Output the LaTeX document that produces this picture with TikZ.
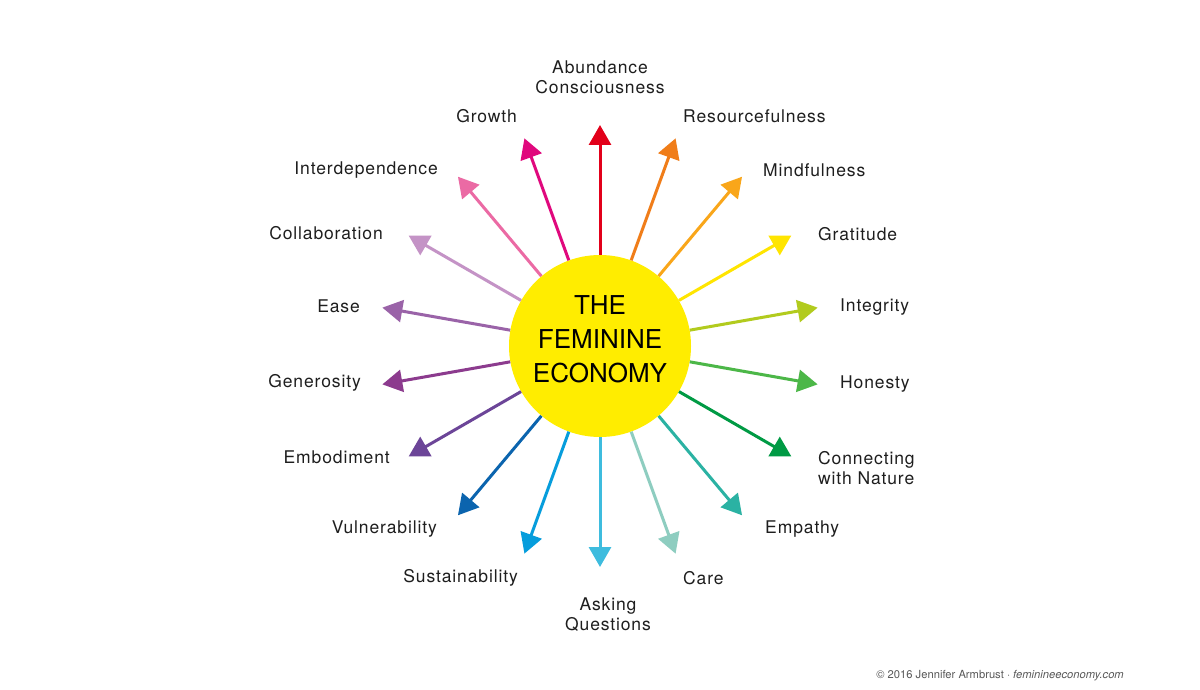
\documentclass[tikz,border=0pt]{standalone}
\usepackage{fontspec}
\setmainfont{TeX Gyre Heros}[LetterSpace=5]
\newfontfamily\centrefont{TeX Gyre Heros}
\usetikzlibrary{arrows.meta}
\definecolor{sun}{HTML}{FFED00}
\definecolor{cAbund}{HTML}{E2001A}
\definecolor{cResou}{HTML}{F07D19}
\definecolor{cMind}{HTML}{F9A61A}
\definecolor{cGrat}{HTML}{FFE500}
\definecolor{cInteg}{HTML}{B2CB1E}
\definecolor{cHon}{HTML}{4CB748}
\definecolor{cNat}{HTML}{009A44}
\definecolor{cEmp}{HTML}{2BB2A3}
\definecolor{cCare}{HTML}{8ECDC0}
\definecolor{cAsk}{HTML}{3EBCDE}
\definecolor{cSust}{HTML}{069DDC}
\definecolor{cVuln}{HTML}{0B64AE}
\definecolor{cEmb}{HTML}{6C4598}
\definecolor{cGen}{HTML}{8C3B8E}
\definecolor{cEase}{HTML}{9A63A8}
\definecolor{cColl}{HTML}{C493C6}
\definecolor{cInter}{HTML}{EB6AA4}
\definecolor{cGrow}{HTML}{E0087D}
\definecolor{txt}{HTML}{1E1E1E}
\begin{document}
\begin{tikzpicture}[x=1pt,y=-1pt,
  lbl/.style={font=\fontsize{17.5}{20}\selectfont, inner sep=0pt, text=txt},
  ray/.style={line width=3pt, -{Triangle[length=20pt,width=22pt]}}]
\useasboundingbox[fill=white] (0,0) rectangle (1200,690);
\node[circle, fill=sun, minimum size=182pt, inner sep=0pt] (c) at (600,346) {};
\node[align=center, inner sep=0pt, font=\centrefont\fontsize{26}{34}\selectfont, text=black]
  (ctext) at (600,339) {THE\\FEMININE\\ECONOMY};
\foreach \nm/\ang/\col in {Abund/90/cAbund, Resou/70/cResou, Mind/50/cMind, Grat/30/cGrat,
  Integ/10/cInteg, Hon/-10/cHon, Nat/-30/cNat, Emp/-50/cEmp, Care/-70/cCare,
  Ask/-90/cAsk, Sust/-110/cSust, Vuln/-130/cVuln, Emb/-150/cEmb, Gen/-170/cGen,
  Ease/170/cEase, Coll/150/cColl, Inter/130/cInter, Grow/110/cGrow}{
  \path (c.center) ++(-\ang:221) coordinate (t\nm);
  \draw[ray, \col] (c) -- (t\nm);
}
\node[lbl, align=center] (lAbund) at (600,77) {Abundance\\Consciousness};
\node[lbl, anchor=west] (lResou) at (683,116) {Resourcefulness};
\node[lbl, anchor=west] (lMind) at (763,170) {Mindfulness};
\node[lbl, anchor=west] (lGrat) at (818,234) {Gratitude};
\node[lbl, anchor=west] (lInteg) at (840,307) {Integrity};
\node[lbl, anchor=west] (lHon) at (840,384) {Honesty};
\node[lbl, anchor=west, align=left] (lNat) at (818,468) {Connecting\\with Nature};
\node[lbl, anchor=west] (lEmp) at (765,529) {Empathy};
\node[lbl, anchor=west] (lCare) at (683,578) {Care};
\node[lbl, align=center] (lAsk) at (608,615) {Asking\\Questions};
\node[lbl, anchor=east] (lSust) at (518,578) {Sustainability};
\node[lbl, anchor=east] (lVuln) at (437,529) {Vulnerability};
\node[lbl, anchor=east] (lEmb) at (390,457) {Embodiment};
\node[lbl, anchor=east] (lGen) at (361,383) {Generosity};
\node[lbl, anchor=east] (lEase) at (360,306) {Ease};
\node[lbl, anchor=east] (lColl) at (383,233) {Collaboration};
\node[lbl, anchor=east] (lInter) at (438,170) {Interdependence};
\node[lbl, anchor=east] (lGrow) at (517,116) {Growth};
\node[anchor=east, inner sep=0pt, text=black!65, font=\centrefont\fontsize{11.2}{12}\selectfont] (foot) at (1124,676)
  {© 2016 Jennifer Armbrust · \textit{feminineeconomy.com}};
\end{tikzpicture}
\end{document}
